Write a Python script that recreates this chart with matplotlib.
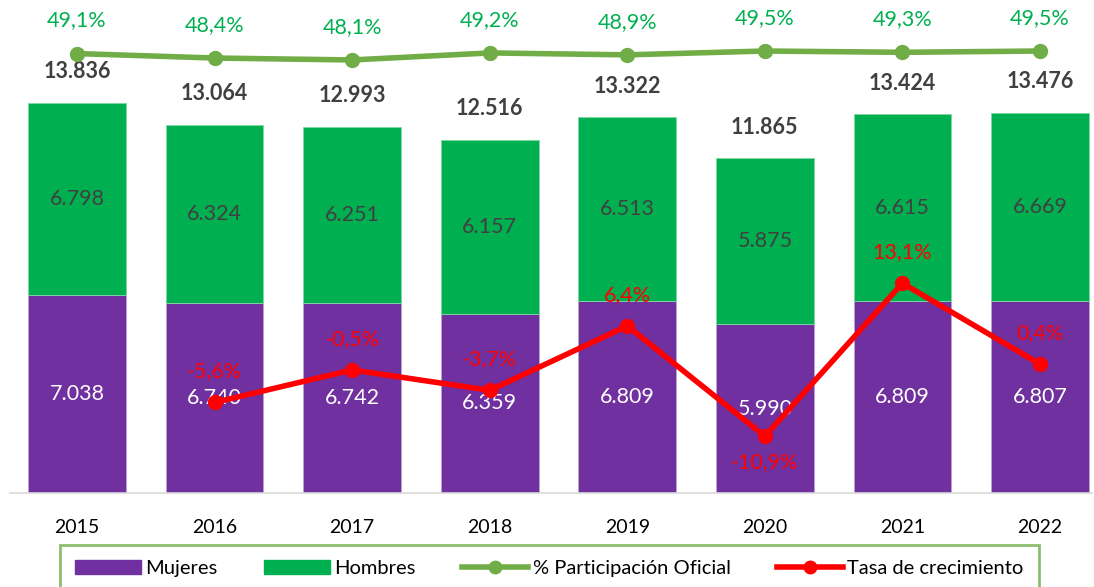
import numpy as np
import matplotlib.pyplot as plt
from matplotlib.lines import Line2D
from matplotlib.patches import Patch

plt.rcParams['font.family'] = ['Lato', 'DejaVu Sans']

###############################
# data
years = ['2015', '2016', '2017', '2018', '2019', '2020', '2021', '2022']
mujeres = [7038, 6740, 6742, 6359, 6809, 5990, 6809, 6807]
hombres = [6798, 6324, 6251, 6157, 6513, 5875, 6615, 6669]
totales = [13836, 13064, 12993, 12516, 13322, 11865, 13424, 13476]
participacion = [49.1, 48.4, 48.1, 49.2, 48.9, 49.5, 49.3, 49.5]
crecimiento = [np.nan, -5.6, -0.5, -3.7, 6.4, -10.9, 13.1, 0.4]

c_muj = '#7030A0'
c_hom = '#00B050'
c_part = '#70AD47'
c_crec = '#FF0000'
c_txt = '#404040'

def fmt_miles(v):
    return '{:,}'.format(v).replace(',', '.')

def fmt_pct(v):
    return ('%.1f%%' % v).replace('.', ',')

fig = plt.figure(figsize=(10.94, 5.87), dpi=100)
ax = fig.add_axes([10/1094, 94/587, 1082/1094, 493/587])
x = np.arange(len(years))
w = 0.71

ax.bar(x, mujeres, w, color=c_muj, edgecolor='#b9a3d0', linewidth=0.6)
ax.bar(x, hombres, w, bottom=mujeres, color=c_hom, edgecolor='#7fd9a3', linewidth=0.6)

for i in range(len(years)):
    ax.text(x[i], mujeres[i]/2, fmt_miles(mujeres[i]), ha='center', va='center',
            color='white', fontsize=15.5)
    ax.text(x[i], mujeres[i] + hombres[i]/2, fmt_miles(hombres[i]), ha='center', va='center',
            color=c_txt, fontsize=15.5)
    ax.text(x[i], totales[i] + 1100, fmt_miles(totales[i]), ha='center', va='center',
            color=c_txt, fontsize=15.5, fontweight='bold')

ax.set_xlim(-0.487, 7.378)
ax.set_ylim(0, 17480)
ax.set_xticks(x)
ax.set_xticklabels(years, fontsize=14)
ax.tick_params(axis='x', length=0, pad=19)
ax.set_yticks([])
for s in ['top', 'right', 'left']:
    ax.spines[s].set_visible(False)
ax.spines['bottom'].set_color('#d9d9d9')
ax.spines['bottom'].set_linewidth(1.2)

ax2 = ax.twinx()
ax2.set_ylim(-19.8, 57.5)
ax2.set_yticks([])
for s in ['top', 'right', 'left', 'bottom']:
    ax2.spines[s].set_visible(False)

ax2.plot(x, participacion, color=c_part, lw=4, marker='o', ms=10)
ax2.plot(x, crecimiento, color=c_crec, lw=4, marker='o', ms=10)

for i in range(len(years)):
    ax2.text(x[i], participacion[i] + 5.2, fmt_pct(participacion[i]), ha='center',
             va='center', color=c_hom, fontsize=15.5)
    if not np.isnan(crecimiento[i]):
        off = -4.0 if crecimiento[i] < -10 else 4.9
        ax2.text(x[i], crecimiento[i] + off, fmt_pct(crecimiento[i]), ha='center',
                 va='center', color=c_crec, fontsize=15.5)

handles = [Patch(color=c_muj), Patch(color=c_hom),
           Line2D([], [], color=c_part, lw=4, marker='o', ms=9),
           Line2D([], [], color=c_crec, lw=4, marker='o', ms=9)]
labels = ['Mujeres', 'Hombres', '% Participación Oficial', 'Tasa de crecimiento']
leg = fig.legend(handles, labels, loc='upper center', bbox_to_anchor=(0.502, 1 - 545/587),
                 ncol=4, fontsize=14.5, frameon=True, fancybox=False, borderpad=0.75,
                 handlelength=3.3, columnspacing=2.3, handletextpad=0.2,
                 borderaxespad=0)
leg.get_frame().set_edgecolor(c_part)
leg.get_frame().set_linewidth(2)

fig.savefig('out.png', dpi=100)
